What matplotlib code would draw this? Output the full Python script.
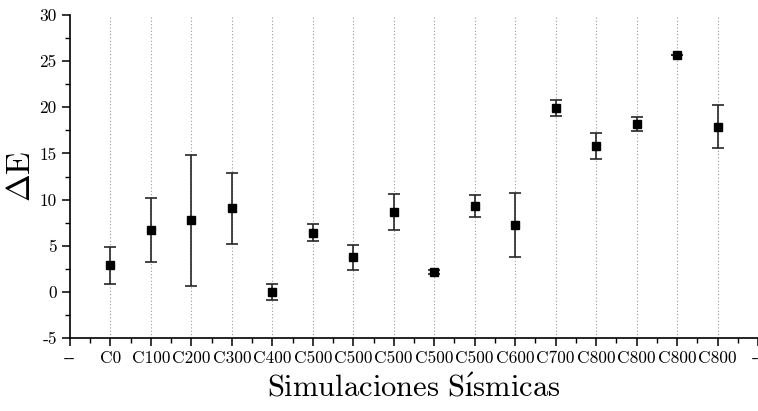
import numpy as np
import matplotlib.pyplot as plt
from matplotlib.ticker import MultipleLocator

plt.rcParams['font.family'] = ['cmr10', 'DejaVu Serif']
plt.rcParams['mathtext.fontset'] = 'cm'
plt.rcParams['axes.unicode_minus'] = False

# data
labels = ['C0', 'C100', 'C200', 'C300', 'C400', 'C500', 'C500', 'C500',
          'C500', 'C500', 'C600', 'C700', 'C800', 'C800', 'C800', 'C800']
dE = [2.9, 6.7, 7.75, 9.05, 0.0, 6.4, 3.75, 8.6,
      2.15, 9.3, 7.25, 19.9, 15.8, 18.15, 25.7, 17.9]
err = [2.0, 3.5, 7.1, 3.85, 0.9, 0.9, 1.35, 1.95,
       0.2, 1.2, 3.5, 0.85, 1.4, 0.75, 0.0, 2.3]

x = np.arange(1, len(labels) + 1)

fig = plt.figure(figsize=(7.58, 4.11), dpi=100)
ax = fig.add_axes([0.0923, 0.1776, 0.9077, 0.7859])

for xi in x:
    ax.axvline(xi, color='0.6', ls=(0, (1, 2)), lw=0.8, zorder=0)

ax.errorbar(x, dE, yerr=err, fmt='s', color='black', ecolor='0.15',
            ms=6, elinewidth=1.2, capsize=4, capthick=1.2)

ax.set_xlim(0, len(labels) + 1)
ax.set_ylim(-5, 30)
ax.set_xticks(np.arange(0, len(labels) + 2))
ax.set_xticklabels(['--'] + labels + ['--'])
ax.xaxis.set_minor_locator(MultipleLocator(0.5))
ax.set_yticks(np.arange(-5, 31, 5))
ax.set_yticklabels([str(v) for v in range(-5, 31, 5)])
ax.yaxis.set_minor_locator(MultipleLocator(2.5))

ax.spines['top'].set_visible(False)
ax.spines['right'].set_visible(False)
ax.spines['left'].set_linewidth(1.2)
ax.spines['bottom'].set_linewidth(1.2)
ax.tick_params(which='major', direction='out', length=6, width=1.1, labelsize=12.5)
ax.tick_params(which='minor', direction='out', length=3.5, width=1.0)
ax.tick_params(axis='x', pad=3)

ax.set_ylabel(r'$\Delta\mathrm{E}$', fontsize=24)
ax.yaxis.set_label_coords(-0.049, 0.5)
ax.set_xlabel('$\\mathrm{Simulaciones\\ S\\acute{\u0131}smicas}$', fontsize=22)
ax.xaxis.set_label_coords(0.5, -0.11)

fig.savefig('out.png', dpi=100)
